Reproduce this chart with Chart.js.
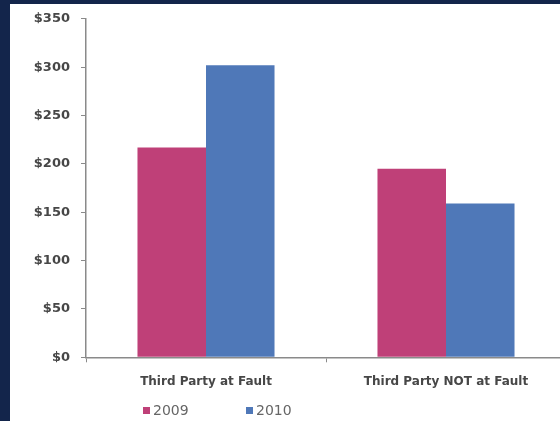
<!DOCTYPE html>
<html>
<head>
<meta charset="utf-8">
<script src="https://cdn.jsdelivr.net/npm/chart.js@4/dist/chart.umd.min.js"></script>
<style>
  html, body { margin: 0; padding: 0; background: #13254b; overflow: hidden; }
  #wrap { width: 568px; height: 421px; }
</style>
</head>
<body>
<div id="wrap"><canvas id="c" width="568" height="421"></canvas></div>
<script>
const categories = ["Third Party at Fault", "Third Party NOT at Fault"];
const seriesNames = ["2009", "2010"];
const values2009 = [217, 195];
const values2010 = [302, 159];
const yTicks = [0, 50, 100, 150, 200, 250, 300, 350];
const colors = ["#bf4078", "#4f78b8"];

const panelPlugin = {
  id: 'panel',
  beforeDraw(chart) {
    const ctx = chart.ctx;
    ctx.save();
    ctx.fillStyle = '#13254b';
    ctx.fillRect(0, 0, chart.width, chart.height);
    ctx.fillStyle = '#ffffff';
    ctx.fillRect(10, 4, chart.width - 10, chart.height - 4);
    ctx.restore();
  }
};

const legendPlugin = {
  id: 'manualLegend',
  afterDraw(chart) {
    const ctx = chart.ctx;
    const starts = [143, 246];
    ctx.save();
    ctx.font = '14px "DejaVu Sans"';
    ctx.textBaseline = 'middle';
    chart.data.datasets.forEach((ds, i) => {
      const x = starts[i];
      ctx.fillStyle = ds.backgroundColor;
      ctx.fillRect(x, 407, 7, 7);
      ctx.fillStyle = '#666666';
      ctx.fillText(ds.label, x + 10, 411);
    });
    ctx.restore();
  }
};

new Chart(document.getElementById('c'), {
  type: 'bar',
  data: {
    labels: categories,
    datasets: [
      { label: seriesNames[0], data: values2009, backgroundColor: colors[0] },
      { label: seriesNames[1], data: values2010, backgroundColor: colors[1] }
    ]
  },
  options: {
    responsive: false,
    animation: false,
    devicePixelRatio: 1,
    layout: { padding: { left: 10, top: 18.5, right: 2, bottom: 23.7 } },
    plugins: { legend: { display: false }, tooltip: { enabled: false } },
    datasets: { bar: { categoryPercentage: 0.571, barPercentage: 1.0 } },
    scales: {
      x: {
        afterFit(scale) { scale.height = 40; },
        grid: { display: true, drawOnChartArea: false, drawTicks: true, tickLength: 5, color: '#8a8a8a', lineWidth: 1 },
        border: { display: true, color: '#8a8a8a', width: 1.5 },
        ticks: { color: '#474747', font: { family: 'DejaVu Sans', size: 12, weight: 'bold' }, padding: 12, maxRotation: 0 }
      },
      y: {
        min: 0, max: 350,
        afterFit(scale) { scale.width = 76; },
        afterBuildTicks(scale) { scale.ticks = yTicks.map(v => ({ value: v })); },
        grid: { display: true, drawOnChartArea: false, drawTicks: true, tickLength: 5, color: '#8a8a8a', lineWidth: 1 },
        border: { display: true, color: '#8a8a8a', width: 1.5 },
        ticks: {
          color: '#474747', font: { family: 'DejaVu Sans', size: 13, weight: 'bold' }, padding: 11,
          callback: v => '$' + v
        }
      }
    }
  },
  plugins: [panelPlugin, legendPlugin]
});
</script>
</body>
</html>
